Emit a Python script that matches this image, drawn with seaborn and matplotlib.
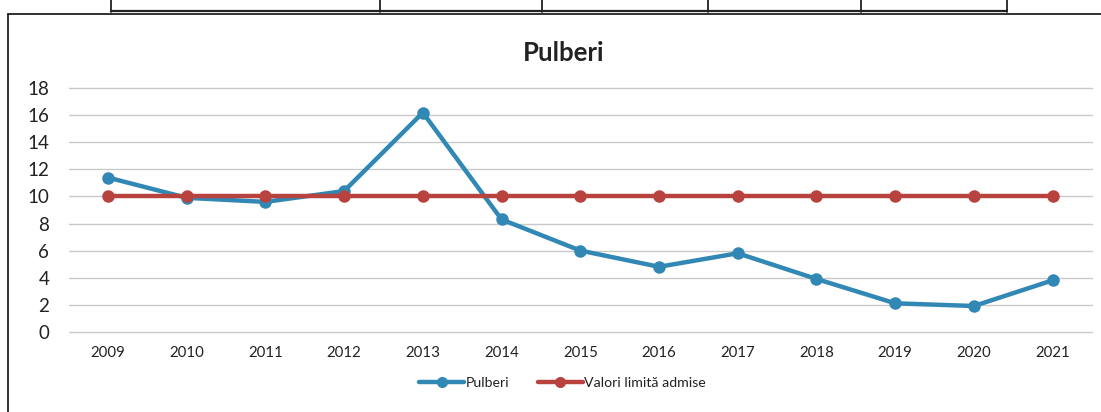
import matplotlib
matplotlib.use("Agg")
import matplotlib.pyplot as plt
import pandas as pd
import seaborn as sns
from matplotlib.lines import Line2D

years = ["2009", "2010", "2011", "2012", "2013", "2014", "2015",
         "2016", "2017", "2018", "2019", "2020", "2021"]
pulberi = [11.4, 9.9, 9.6, 10.4, 16.2, 8.3, 6.0, 4.8, 5.8, 3.9, 2.1, 1.9, 3.8]
limita = [10, 10, 10, 10, 10, 10, 10, 10, 10, 10, 10, 10, 10]
series_names = ["Pulberi", "Valori limită admise"]
y_ticks = [0, 2, 4, 6, 8, 10, 12, 14, 16, 18]

df = pd.concat([
    pd.DataFrame({"an": years, "valoare": pulberi, "serie": series_names[0]}),
    pd.DataFrame({"an": years, "valoare": limita, "serie": series_names[1]}),
])

sns.set_theme(style="white")
plt.rcParams["font.family"] = ["Lato", "DejaVu Sans"]

fig = plt.figure(figsize=(11.01, 4.12), dpi=100)
ax = fig.add_axes([0.0623, 0.1949, 0.9295, 0.5908])

palette = {"Pulberi": "#3288b4", "Valori limită admise": "#b8433e"}
sns.lineplot(data=df, x="an", y="valoare", hue="serie", palette=palette,
             marker="o", markersize=9, markeredgewidth=0, linewidth=3.2,
             sort=False, ax=ax, legend=False)

ax.set_xlim(-0.5, len(years) - 0.5)
ax.set_ylim(0, 18)
ax.set_yticks(y_ticks)
ax.yaxis.grid(True, color="#c9c9c9", linewidth=1)
for line in ax.get_ygridlines():
    line.set_clip_on(False)
ax.set_axisbelow(True)
for s in ax.spines.values():
    s.set_visible(False)
ax.set_xlabel("")
ax.set_ylabel("")
ax.tick_params(axis="y", length=0, pad=14, labelsize=13.5, labelcolor="#222222")
ax.tick_params(axis="x", length=0, pad=10, labelsize=10.8, labelcolor="#222222")

fig.text(0.512, 0.872, "Pulberi", ha="center", va="center",
         fontsize=18.5, fontweight="bold", color="#222222")

handles = [Line2D([], [], color=palette[n], marker="o", markersize=8,
                  markeredgewidth=0, linewidth=3.2) for n in series_names]
fig.legend(handles, series_names, loc="center", bbox_to_anchor=(0.511, 0.07),
           ncol=2, frameon=False, fontsize=10.2, handlelength=3.2,
           handletextpad=0.1, columnspacing=2.0, labelcolor="#222222")

# chenar grafic si marginea tabelului de deasupra
W, H = 1101, 412
def seg(x0, y0, x1, y1, lw=1.3):
    fig.add_artist(Line2D([x0 / W, x1 / W], [1 - y0 / H, 1 - y1 / H],
                          color="#222222", linewidth=lw))

seg(8, 14, 8, 412)
seg(8, 14, 1101, 14)
seg(111, 11, 1007, 11, lw=1.6)
for xv in [111, 380, 542, 708, 861, 1007]:
    seg(xv, 0, xv, 12)

fig.savefig("out.png", dpi=100, facecolor="white")
